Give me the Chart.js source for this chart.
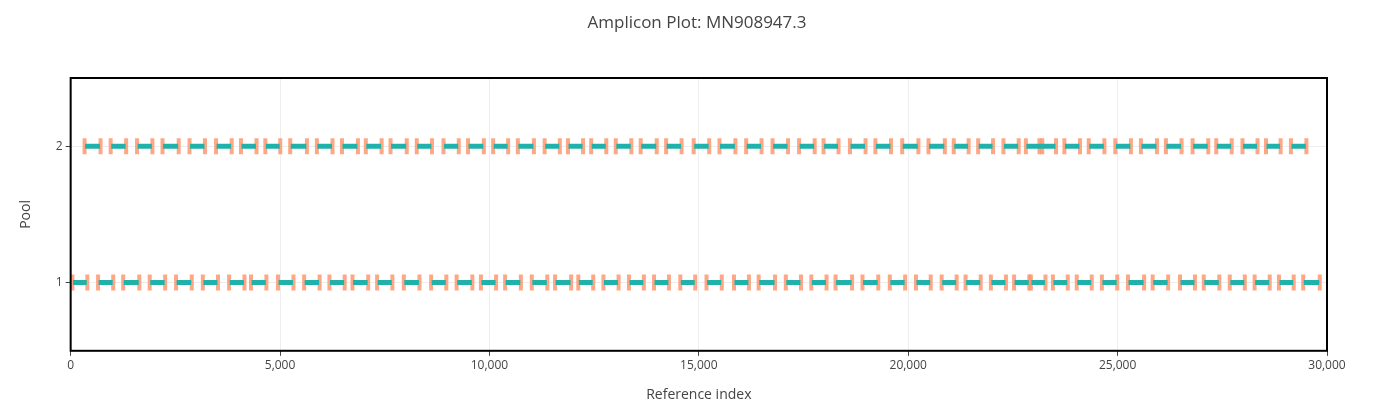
<!DOCTYPE html>
<html>
<head>
<script src="https://cdn.jsdelivr.net/npm/chart.js@4.4.0/dist/chart.umd.min.js"></script>
<style>
  html, body { margin: 0; padding: 0; background: #fff; }
  #wrap { width: 1377px; height: 409px; }
</style>
</head>
<body>
<div id="wrap"><canvas id="amplicon-chart"></canvas></div>
<script>
const pool1Starts = [30, 642, 1242, 1875, 2505, 3144, 3771, 4294, 4939, 5563, 6167, 6718, 7305, 7943, 8595, 9204, 9784, 10362, 10999, 11555, 12110, 12710, 13319, 13918, 14545, 15171, 15827, 16416, 17065, 17674, 18253, 18896, 19548, 20172, 20786, 21357, 21961, 22516, 22916, 23443, 24012, 24612, 25235, 25825, 26478, 27045, 27666, 28259, 28840, 29420];
const pool1Ends = [410, 1028, 1651, 2269, 2904, 3531, 4163, 4686, 5333, 5957, 6556, 7117, 7694, 8341, 8983, 9604, 10171, 10763, 11394, 11963, 12490, 13096, 13699, 14299, 14926, 15560, 16209, 16833, 17452, 18062, 18672, 19297, 19939, 20550, 21169, 21743, 22346, 22903, 23290, 23822, 24394, 25003, 25645, 26219, 26860, 27441, 28050, 28644, 29217, 29840];
const pool2Starts = [320, 943, 1573, 2181, 2826, 3460, 4054, 4636, 5230, 5867, 6466, 7035, 7626, 8252, 8891, 9477, 10076, 10666, 11306, 11863, 12417, 13005, 13599, 14207, 14865, 15481, 16118, 16748, 17381, 17966, 18596, 19204, 19844, 20472, 21075, 21658, 22262, 22797, 23122, 23717, 24298, 24933, 25544, 26140, 26778, 27343, 27970, 28531, 29126];
const pool2Ends = [726, 1337, 1964, 2592, 3219, 3857, 4450, 5017, 5654, 6265, 6872, 7437, 8038, 8640, 9280, 9878, 10459, 11074, 11693, 12248, 12802, 13400, 14007, 14601, 15260, 15886, 16510, 17143, 17779, 18348, 18994, 19601, 20255, 20887, 21455, 22038, 22650, 23214, 23542, 24114, 24697, 25330, 25952, 26539, 27177, 27737, 28353, 28905, 29520];
const xTicks = [0, 5000, 10000, 15000, 20000, 25000, 30000];
const yTicks = [1, 2];
const primerLen = 25;

function insertPoints(starts, ends, pool) {
  const pts = [];
  starts.forEach((s, i) => {
    pts.push({ x: s + primerLen, y: pool });
    pts.push({ x: ends[i] - primerLen, y: pool });
    pts.push({ x: ends[i], y: null });
  });
  return pts;
}

function primerPoints(starts, ends, pool) {
  const pts = [];
  starts.forEach((s, i) => {
    pts.push({ x: s + primerLen / 2, y: pool });
    pts.push({ x: ends[i] - primerLen / 2, y: pool });
  });
  return pts;
}

const insertStyle = {
  showLine: true,
  spanGaps: false,
  borderColor: '#20b2aa',
  borderWidth: 5,
  pointRadius: 0,
  borderCapStyle: 'butt',
};

const primerStyle = {
  showLine: false,
  pointStyle: 'line',
  rotation: 90,
  pointRadius: 8,
  borderWidth: 4,
  borderColor: 'rgba(255,150,110,0.85)',
  backgroundColor: 'rgba(255,150,110,0.85)',
};

const framePlugin = {
  id: 'plotFrame',
  afterDraw(chart) {
    const { ctx, chartArea: a } = chart;
    ctx.save();
    ctx.strokeStyle = '#000';
    ctx.lineWidth = 2;
    ctx.strokeRect(a.left, a.top, a.right - a.left, a.bottom - a.top);
    ctx.fillStyle = '#444';
    ctx.font = '17px "Open Sans"';
    ctx.textAlign = 'center';
    ctx.textBaseline = 'middle';
    ctx.fillText('Amplicon Plot: MN908947.3', 697, 23);
    ctx.restore();
  },
};

new Chart(document.getElementById('amplicon-chart').getContext('2d'), {
  type: 'scatter',
  data: {
    datasets: [
      { ...insertStyle, data: insertPoints(pool1Starts, pool1Ends, 1) },
      { ...insertStyle, data: insertPoints(pool2Starts, pool2Ends, 2) },
      { ...primerStyle, data: primerPoints(pool1Starts, pool1Ends, 1) },
      { ...primerStyle, data: primerPoints(pool2Starts, pool2Ends, 2) },
    ],
  },
  options: {
    responsive: true,
    maintainAspectRatio: false,
    animation: false,
    layout: { padding: { left: 14, right: 50, top: 78, bottom: 2 } },
    plugins: {
      legend: { display: false },
      tooltip: { enabled: false },
      title: { display: false },
    },
    scales: {
      x: {
        type: 'linear',
        min: 0,
        max: 30000,
        afterBuildTicks: (axis) => { axis.ticks = xTicks.map((v) => ({ value: v })); },
        ticks: {
          color: '#444',
          font: { family: 'Open Sans', size: 12 },
          maxRotation: 0,
          callback: (v) => v.toLocaleString('en-US'),
        },
        grid: { color: '#eee', drawTicks: true, tickColor: '#444', tickLength: 5 },
        border: { display: false },
        title: {
          display: true,
          text: 'Reference index',
          color: '#444',
          font: { family: 'Open Sans', size: 14 },
          padding: { top: 10 },
        },
      },
      y: {
        type: 'linear',
        min: 0.5,
        max: 2.5,
        afterBuildTicks: (axis) => { axis.ticks = yTicks.map((v) => ({ value: v })); },
        ticks: { color: '#444', font: { family: 'Open Sans', size: 12 } },
        grid: { color: '#eee', tickColor: '#444', tickLength: 5 },
        border: { display: false },
        title: {
          display: true,
          text: 'Pool',
          color: '#444',
          font: { family: 'Open Sans', size: 14 },
          padding: { bottom: 18 },
        },
      },
    },
  },
  plugins: [framePlugin],
});
</script>
</body>
</html>
